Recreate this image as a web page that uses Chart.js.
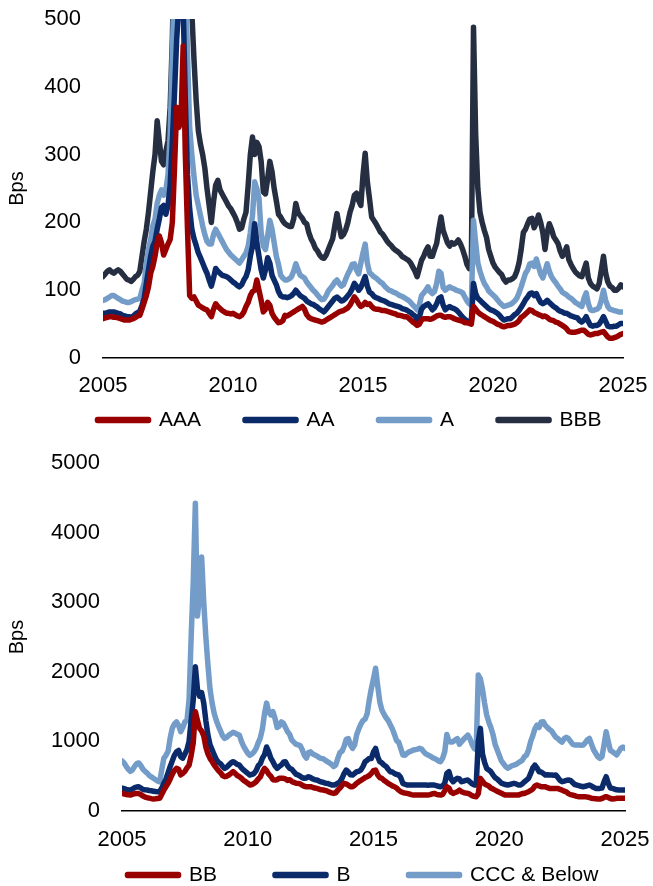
<!DOCTYPE html>
<html>
<head>
<meta charset="utf-8">
<script src="https://cdn.jsdelivr.net/npm/chart.js@4"></script>
<style>
html, body { margin: 0; padding: 0; background: #fff; overflow: hidden; }
.wrap { position: absolute; left: 0; width: 653px; }
#igWrap { top: 0; height: 441px; }
#hyWrap { top: 440px; height: 446px; }
</style>
</head>
<body>
<div class="wrap" id="igWrap"><canvas id="igChart"></canvas></div>
<div class="wrap" id="hyWrap"><canvas id="hyChart"></canvas></div>
<script>
/* Spreads by rating bucket, monthly, Jan 2005 - Jan 2025 */
const months = Array.from({ length: 241 }, (_, i) => 2005 + i / 12);
const yearTicks = [2005, 2010, 2015, 2020, 2025];
const igTicks = [0, 100, 200, 300, 400, 500];
const hyTicks = [0, 1000, 2000, 3000, 4000, 5000];

const aaa = [
  58,59,60,61,61,60,60,59,58,57,56,56,
  56,57,58,60,62,63,72,82,92,105,125,135,
  150,170,180,170,152,160,168,175,200,280,370,340,
  350,460,300,190,92,88,90,84,78,76,74,72,
  71,66,61,72,80,76,73,70,68,66,66,65,
  66,64,62,61,63,68,76,82,92,98,100,115,
  100,85,68,72,82,78,66,60,56,52,53,55,
  63,62,64,66,68,70,72,74,76,72,64,60,
  58,57,56,55,54,53,54,56,58,60,62,64,
  66,68,69,70,72,74,78,84,90,86,80,76,
  78,82,79,80,76,73,72,72,71,70,70,69,
  68,67,66,65,63,63,62,61,61,59,56,53,
  51,48,50,56,58,58,58,57,58,60,62,63,
  63,61,60,61,61,60,58,57,56,55,54,52,
  52,51,50,76,72,68,65,63,61,59,57,55,
  54,52,50,49,47,46,47,48,48,49,50,52,
  55,60,62,65,68,71,70,67,66,64,63,61,
  62,60,57,56,55,53,52,50,48,46,43,39,
  38,38,38,39,40,41,41,38,35,34,35,36,
  36,37,38,39,35,31,29,29,30,31,33,35,36
];
const aa = [
  66,66,67,68,68,68,67,66,65,63,62,61,
  61,60,62,65,67,69,78,88,110,130,150,165,
  172,190,205,222,225,212,225,255,320,390,470,520,
  560,520,380,270,220,190,176,166,155,148,140,132,
  125,115,106,118,132,128,125,122,121,120,118,115,
  112,110,107,105,108,115,120,130,150,165,198,170,
  150,130,118,130,148,140,122,115,108,98,92,90,
  90,89,90,92,95,100,96,92,90,88,84,82,
  80,79,77,75,72,70,68,72,76,80,84,88,
  90,87,84,85,88,92,96,102,110,106,100,104,
  112,120,106,97,95,91,89,88,86,85,84,82,
  80,79,78,77,76,75,73,72,71,69,67,64,
  62,56,60,72,76,78,80,76,71,74,80,88,
  90,78,71,74,76,74,73,71,68,64,60,57,
  55,53,54,110,95,88,85,82,79,76,73,71,
  70,68,66,63,59,56,57,58,58,61,64,66,
  70,75,80,86,90,95,96,92,95,88,82,80,
  82,85,82,79,76,74,71,69,68,66,66,64,
  62,61,60,59,55,53,56,61,54,48,47,48,
  48,50,55,61,54,47,46,46,47,47,49,51,51
];
const singleA = [
  85,86,88,90,92,92,90,88,86,84,83,82,
  82,83,85,86,87,88,100,110,140,160,175,195,
  205,228,240,248,240,248,270,330,450,560,620,600,
  640,600,560,450,340,300,268,240,225,210,195,182,
  172,168,168,182,190,184,178,172,166,160,156,152,
  149,146,143,140,145,150,155,165,185,210,260,250,
  235,185,165,160,180,203,190,170,150,138,122,118,
  115,115,117,120,128,139,130,122,120,118,112,108,
  104,100,97,93,89,86,87,92,99,103,107,112,
  115,110,106,108,116,124,130,138,139,130,124,140,
  155,168,140,126,123,120,118,115,112,110,106,103,
  100,99,97,96,94,92,91,89,87,85,82,78,
  75,71,78,92,96,100,105,98,95,98,110,128,
  125,104,100,103,105,103,102,100,99,98,96,90,
  84,80,78,203,170,140,128,118,110,105,99,96,
  93,90,86,82,79,76,77,78,79,81,84,88,
  96,105,115,125,130,139,140,135,146,135,124,118,
  128,139,128,120,115,111,106,102,97,95,93,90,
  88,85,82,80,78,76,88,96,80,71,70,71,
  72,75,85,100,85,76,72,71,70,69,68,68,68
];
const bbb = [
  120,124,128,130,127,125,128,130,128,124,120,116,
  115,113,116,120,122,128,150,172,190,215,245,275,
  300,350,320,290,285,305,320,370,470,620,760,700,
  800,720,760,640,560,510,440,380,335,315,300,280,
  250,225,200,230,255,262,248,242,236,230,224,220,
  214,208,200,190,192,205,215,255,300,326,300,318,
  312,290,245,242,265,290,275,250,232,212,208,202,
  198,196,194,194,205,228,215,210,206,200,198,185,
  176,170,162,158,152,148,147,152,160,168,176,195,
  213,195,179,182,189,200,215,225,240,243,232,225,
  270,302,260,235,208,203,198,192,186,183,178,173,
  169,166,162,159,157,154,150,148,146,144,140,134,
  128,120,132,144,150,158,164,150,150,160,169,190,
  208,188,179,170,165,170,168,170,174,168,160,150,
  138,132,135,488,330,250,215,200,188,178,160,150,
  140,134,130,126,123,116,112,115,115,117,120,128,
  140,160,185,190,198,205,206,192,200,211,200,185,
  160,185,198,190,179,174,169,158,150,155,164,145,
  138,132,127,124,121,120,130,140,118,110,106,104,
  102,110,130,150,125,112,106,104,100,100,103,108,105
];
const bb = [
  255,245,238,232,229,238,248,253,250,235,215,200,
  191,185,178,172,175,180,182,240,300,350,400,460,
  530,580,612,600,520,540,570,620,660,800,980,1427,
  1300,1187,1150,1080,920,820,756,710,660,620,580,550,
  510,493,500,517,540,565,540,510,493,470,440,421,
  400,373,380,397,420,460,490,560,612,580,530,500,
  450,445,450,469,469,469,460,440,450,425,410,400,
  397,390,370,355,349,350,349,340,330,325,315,305,
  302,295,285,270,260,253,262,302,330,370,397,390,
  370,350,349,370,400,421,440,460,480,493,510,540,
  580,588,520,480,469,440,420,397,380,360,349,330,
  300,278,265,258,253,245,235,229,229,229,229,229,
  229,229,229,235,245,253,240,232,229,240,290,349,
  330,270,253,265,278,300,278,265,258,253,240,220,
  210,206,250,469,430,390,373,360,330,315,300,285,
  270,255,240,229,229,229,229,229,229,229,240,250,
  253,265,278,295,315,360,373,360,349,349,349,335,
  325,325,325,325,325,310,300,285,275,250,235,229,
  220,210,206,206,206,206,200,195,182,178,175,172,
  172,180,195,206,195,180,172,175,182,182,182,182,182
];
const singleB = [
  330,320,310,305,302,315,335,345,349,330,310,305,
  302,295,290,285,280,278,280,330,400,460,550,640,
  720,800,850,870,780,760,820,880,1000,1300,1600,2073,
  1750,1650,1700,1550,1300,1091,950,880,804,740,700,680,
  640,612,630,660,690,708,690,670,660,620,590,565,
  540,517,525,540,580,650,680,760,810,920,850,760,
  708,650,612,640,660,700,708,650,612,600,565,530,
  517,500,480,469,475,493,480,460,450,445,430,420,
  410,400,397,385,375,373,380,400,421,470,540,588,
  560,520,517,540,565,570,590,640,708,730,756,756,
  850,900,780,708,690,660,640,600,565,560,540,525,
  517,480,397,385,373,373,373,375,373,373,375,373,
  373,372,370,373,375,372,365,355,349,360,400,540,
  565,460,421,450,469,460,421,430,440,445,420,390,
  375,373,1000,1187,820,700,612,590,565,520,480,460,
  430,400,390,380,373,380,390,397,390,375,373,390,
  420,445,470,540,620,660,620,565,560,540,517,520,
  517,517,515,517,480,440,421,430,440,445,440,410,
  380,373,365,355,349,355,365,373,360,340,325,325,
  325,330,420,493,400,330,325,315,305,302,302,302,300
];
const cccBelow = [
  720,690,640,600,570,590,640,680,690,650,600,570,
  545,510,490,470,450,430,420,600,760,800,860,1050,
  1190,1250,1280,1230,1140,1200,1280,1300,1600,2500,3300,4420,
  2800,3100,3650,3000,2500,2100,1750,1550,1400,1300,1220,1150,
  1080,1043,1060,1090,1110,1130,1120,1100,1090,1000,930,880,
  830,800,820,850,900,980,1050,1180,1400,1550,1420,1380,
  1427,1330,1200,1220,1280,1260,1200,1140,1100,1020,990,960,
  950,940,880,800,760,840,850,820,804,790,770,756,
  750,730,708,690,670,640,660,760,840,860,930,1030,
  1040,950,900,950,1100,1180,1250,1300,1320,1400,1600,1762,
  1900,2050,1800,1570,1450,1390,1340,1300,1240,1180,1100,1010,
  990,900,804,800,830,850,860,876,880,890,900,890,
  850,820,804,790,770,756,740,720,708,760,852,1100,
  1000,990,996,1020,1040,960,996,1030,1060,1091,1040,960,
  900,880,1953,1900,1750,1550,1379,1280,1200,1100,960,880,
  800,720,680,640,615,630,650,660,670,690,708,730,
  780,804,880,1000,1080,1180,1235,1200,1280,1283,1230,1200,
  1170,1150,1100,1060,1040,1010,990,1040,1060,1040,1000,960,
  948,950,950,945,948,980,1020,1043,960,880,830,780,
  756,780,950,1139,1000,870,852,830,804,850,900,920,900
];

const RED = '#990000', NAVY = '#0b2a6a', LIGHT = '#749cc8', SLATE = '#262f41';

Chart.defaults.font.family = "'Liberation Sans', Arial, sans-serif";
Chart.defaults.color = '#000';

function spreadChart(id, series, cfg) {
    const datasets = series.map(([label, values, color]) => ({
        label, data: values.map((v, i) => ({ x: months[i], y: v })),
        borderColor: color, backgroundColor: color, borderWidth: 5.5,
        pointRadius: 0, tension: 0, borderJoinStyle: 'round', borderCapStyle: 'round'
    }));
    return new Chart(document.getElementById(id), {
        type: 'line',
        data: { datasets },
        options: {
            animation: false, responsive: true, maintainAspectRatio: false,
            layout: { padding: { top: cfg.top, right: cfg.right, bottom: 0, left: 0 } },
            scales: {
                x: {
                    type: 'linear', min: 2005, max: 2025,
                    afterBuildTicks: s => { s.ticks = yearTicks.map(value => ({ value })); },
                    afterFit: s => { s.height = cfg.xh; s.paddingLeft = 0; s.paddingRight = 0; },
                    grid: { display: false, drawTicks: false },
                    border: { color: '#000', width: 1.5 },
                    ticks: { padding: cfg.xpad, font: { size: 22 }, maxRotation: 0, autoSkip: false, callback: v => v }
                },
                y: {
                    min: 0, max: cfg.ticks[cfg.ticks.length - 1],
                    afterBuildTicks: s => { s.ticks = cfg.ticks.map(value => ({ value })); },
                    afterFit: s => { s.width = cfg.left; s.paddingTop = 0; s.paddingBottom = 0; },
                    grid: { display: false, drawTicks: false },
                    border: { display: false },
                    ticks: { padding: 22, font: { size: 22 }, callback: v => v },
                    title: { display: true, text: 'Bps', font: { size: 20 }, padding: { top: 5, bottom: 0 } }
                }
            },
            plugins: {
                tooltip: { enabled: false },
                legend: { position: 'bottom', labels: { boxWidth: 51, boxHeight: 1, padding: cfg.lp, font: { size: 21 }, color: '#000' } }
            }
        },
        plugins: [{
            id: 'legendPlace',
            beforeInit(chart) {
                const lg = chart.legend;
                if (!lg) return;
                const fit = lg.fit;
                lg.fit = function () { fit.call(this); this.height = 40; };
            },
            afterLayout(chart) {
                const lg = chart.legend;
                if (!lg || !lg.lineWidths) return;
                const p = lg.options.labels.padding;
                const x0 = (lg.left + p + lg.right - lg.lineWidths[0]) / 2;
                const dx = cfg.legendX - x0;
                const top = cfg.legendY - p - 10.5;
                lg.left += dx; lg.right += dx;
                lg.top = top; lg.bottom = top + p + 32; lg.height = p + 32;
            }
        }]
    });
}

spreadChart('igChart', [['AAA', aaa, RED], ['AA', aa, NAVY], ['A', singleA, LIGHT], ['BBB', bbb, SLATE]],
    { ticks: igTicks, top: 19, right: 30, left: 103, xh: 43, xpad: 15, lp: 44, legendX: 97.5, legendY: 420 });
spreadChart('hyChart', [['BB', bb, RED], ['B', singleB, NAVY], ['CCC & Below', cccBelow, LIGHT]],
    { ticks: hyTicks, top: 23, right: 28, left: 122, xh: 35, xpad: 16, lp: 58, legendX: 127.5, legendY: 435 });
</script>
</body>
</html>
